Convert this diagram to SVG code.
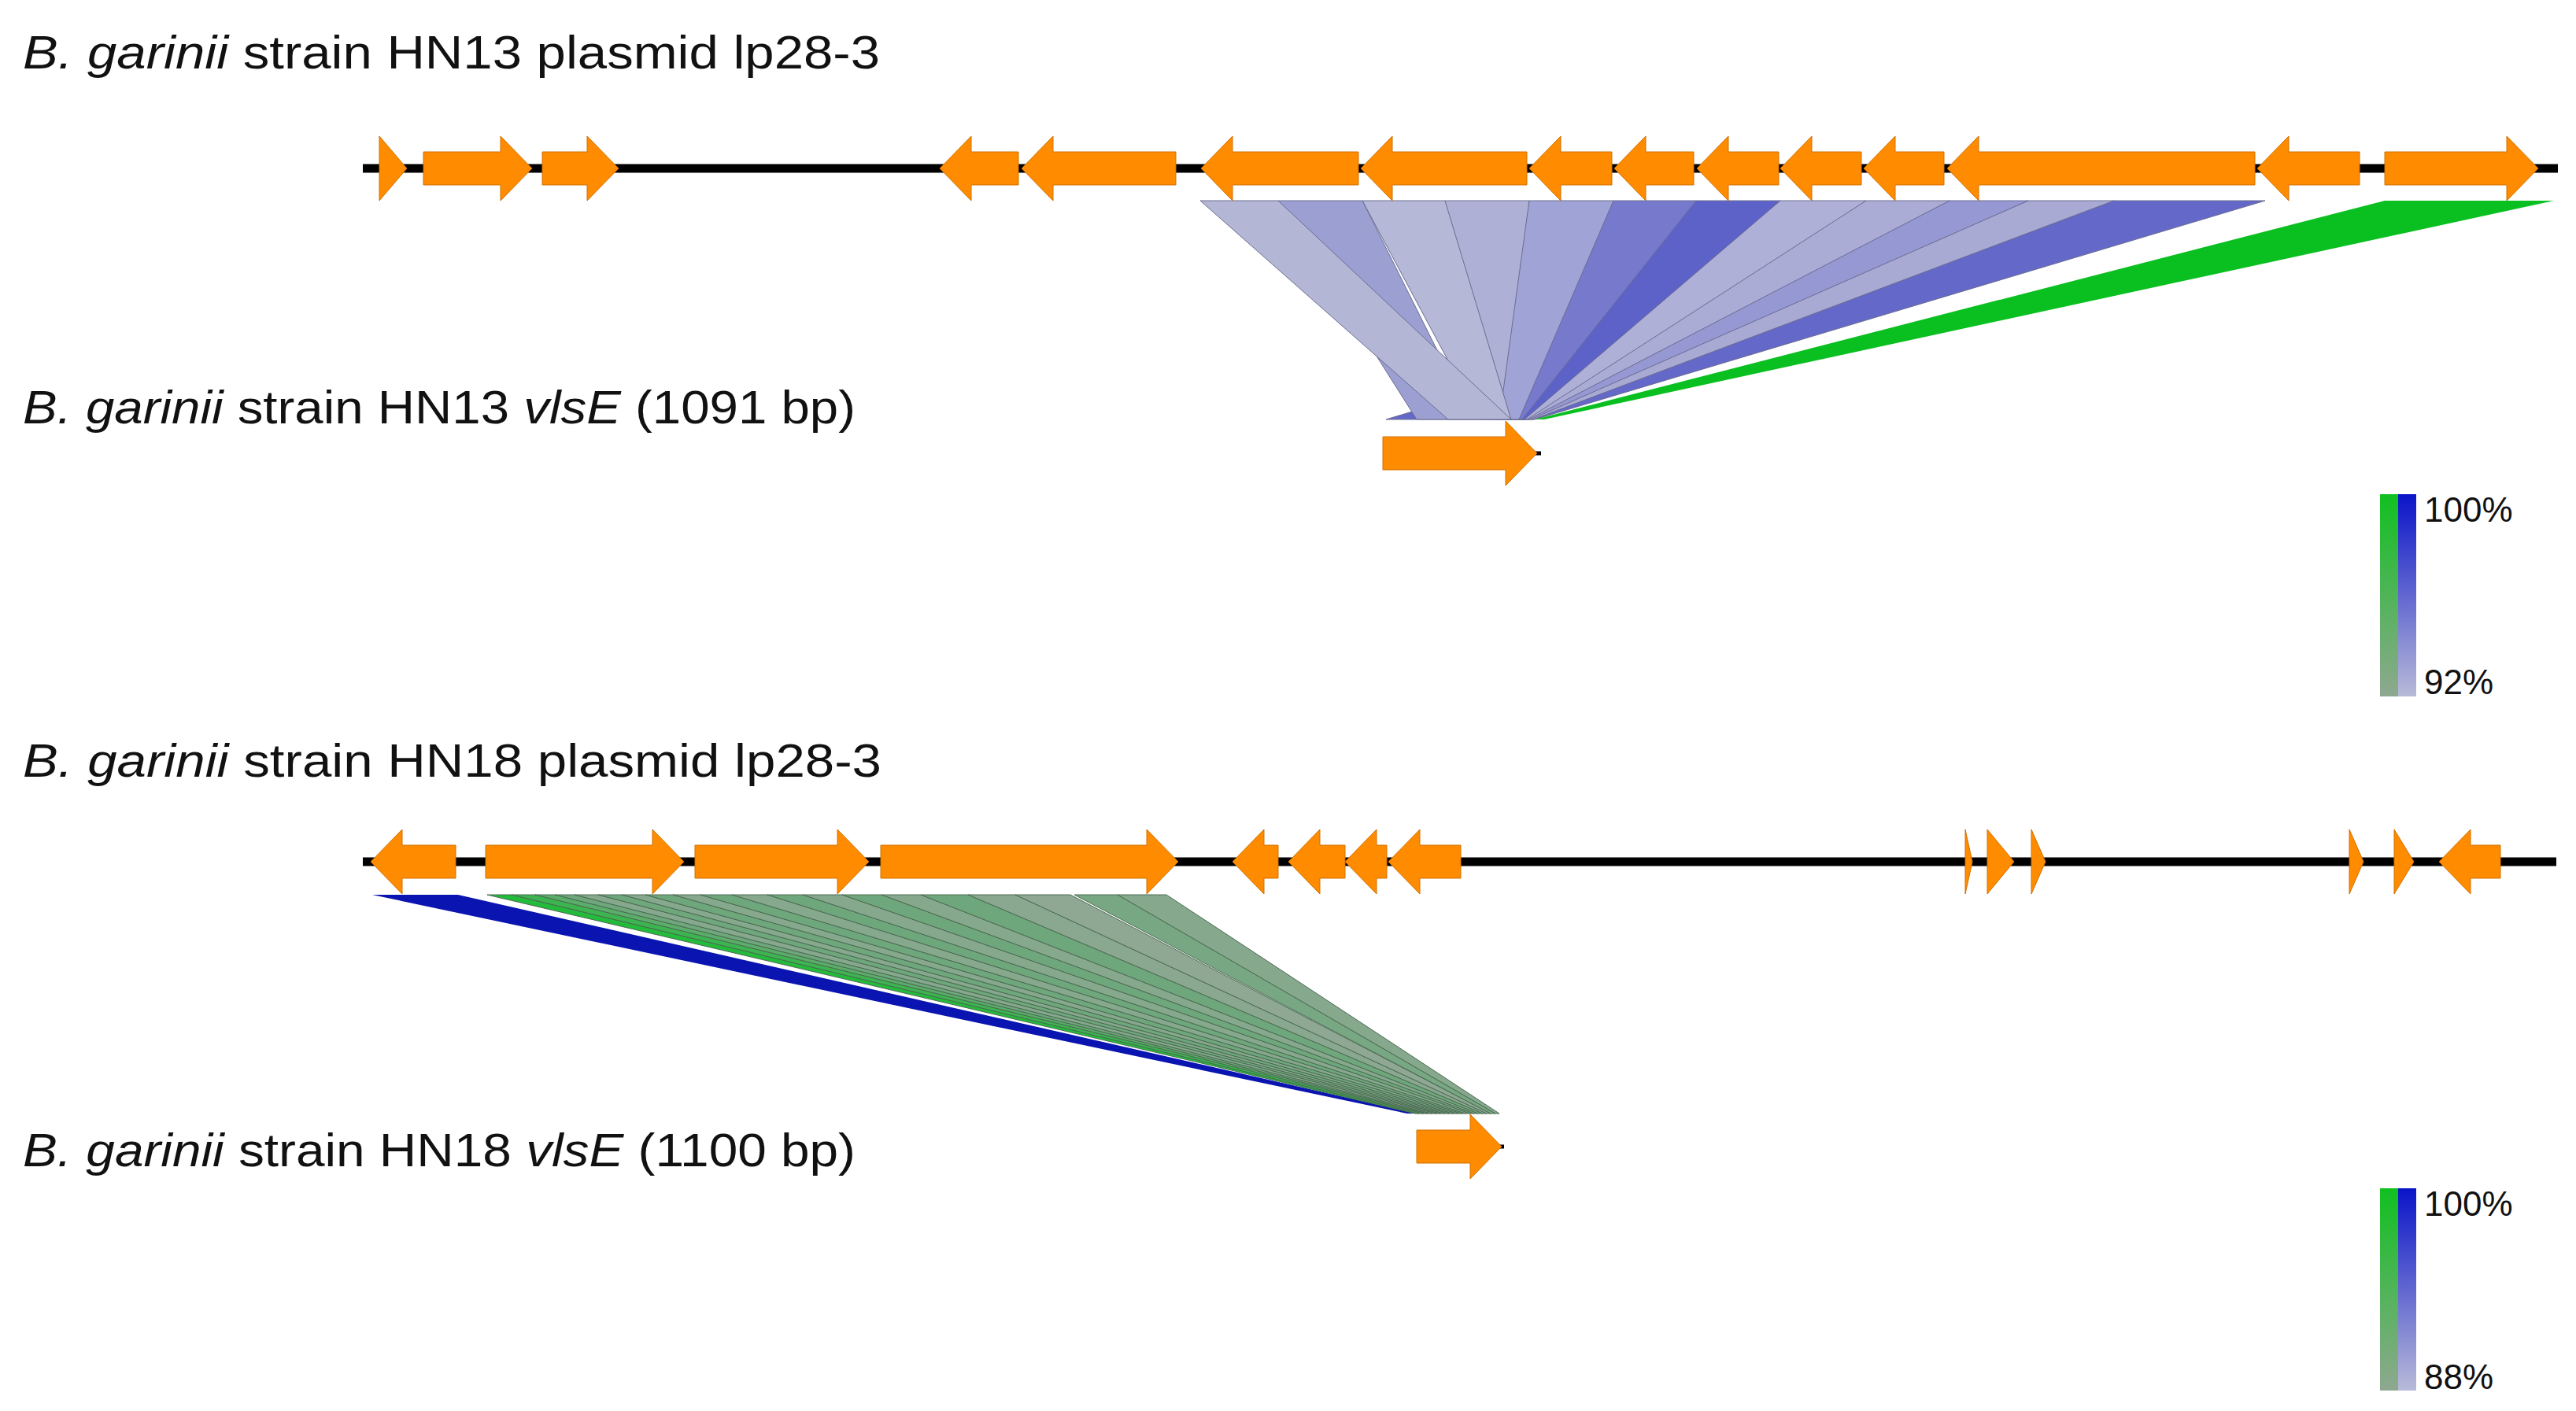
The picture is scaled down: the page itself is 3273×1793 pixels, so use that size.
<svg xmlns="http://www.w3.org/2000/svg" width="3273" height="1793" viewBox="0 0 3273 1793">
<defs>
<style>
.t{font-family:"Liberation Sans",Arial,sans-serif;font-size:60px;fill:#111}
.l{font-family:"Liberation Sans",Arial,sans-serif;font-size:44px;fill:#111}
.g{fill:#ff8c00;stroke:#d07000;stroke-width:1}
.bb{stroke:#000;stroke-width:11}
.r{stroke:#6a6c90;stroke-width:1}
.q{stroke:#4c6a52;stroke-width:1}
</style>
<linearGradient id="gg" x1="0" y1="0" x2="0" y2="1"><stop offset="0" stop-color="#10c020"/><stop offset="1" stop-color="#8fa890"/></linearGradient>
<linearGradient id="gb" x1="0" y1="0" x2="0" y2="1"><stop offset="0" stop-color="#0a14c8"/><stop offset="1" stop-color="#b8bad8"/></linearGradient>
</defs>
<rect width="3273" height="1793" fill="#fff"/>
<g id="labels">
<text class="t" x="29" y="87" textLength="1089" lengthAdjust="spacingAndGlyphs"><tspan font-style="italic">B. garinii</tspan> strain HN13 plasmid lp28-3</text>
<text class="t" x="29" y="538" textLength="1058" lengthAdjust="spacingAndGlyphs"><tspan font-style="italic">B. garinii</tspan> strain HN13 <tspan font-style="italic">vlsE</tspan> (1091 bp)</text>
<text class="t" x="29" y="987" textLength="1091" lengthAdjust="spacingAndGlyphs"><tspan font-style="italic">B. garinii</tspan> strain HN18 plasmid lp28-3</text>
<text class="t" x="29" y="1482" textLength="1058" lengthAdjust="spacingAndGlyphs"><tspan font-style="italic">B. garinii</tspan> strain HN18 <tspan font-style="italic">vlsE</tspan> (1100 bp)</text>
</g>
<g id="connectors">
<polygon class="r" fill="#6468c8" points="2686,255 2878,255 1950,533 1761,533"/>
<polygon class="r" fill="#a8aad4" points="2577,255 2686,255 1948,533 1925,533"/>
<polygon class="r" fill="#9598d2" points="2477,255 2577,255 1945,533 1920,533"/>
<polygon class="r" fill="#aaacd6" points="2371,255 2477,255 1942,533 1915,533"/>
<polygon class="r" fill="#aeb0d8" points="2262,255 2371,255 1940,533 1910,533"/>
<polygon class="r" fill="#5d62c8" points="2155,255 2262,255 1937,533 1905,533"/>
<polygon class="r" fill="#7679cc" points="2050,255 2155,255 1934,533 1900,533"/>
<polygon class="r" fill="#a0a3d6" points="1943,255 2050,255 1930,533 1893,533"/>
<polygon class="r" fill="#aeb0d6" points="1836,255 1943,255 1905,533 1870,533"/>
<polygon class="r" fill="#b6b8d8" points="1731,255 1836,255 1920,533 1880,533"/>
<polygon class="r" fill="#9c9fd2" points="1624,255 1731,255 1870,533 1800,533"/>
<polygon class="r" fill="#b4b6d6" points="1525,255 1624,255 1920,533 1840,533"/>
<polygon fill="#0abf20" points="3030,255 3245,255 1962,533 1950,533"/>
<polygon fill="#0a14b0" points="473,1137 582,1137 1800,1415 1788,1415"/>
<polygon fill="#22bb3a" class="q" points="619,1137 650,1137 1803,1415 1798,1415"/>
<polygon fill="#3cb450" class="q" points="650,1137 680,1137 1809,1415 1803,1415"/>
<polygon fill="#5aae6a" class="q" points="680,1137 705,1137 1814,1415 1809,1415"/>
<polygon fill="#6fa77c" class="q" points="705,1137 730,1137 1819,1415 1814,1415"/>
<polygon fill="#86a98e" class="q" points="730,1137 760,1137 1825,1415 1819,1415"/>
<polygon fill="#6fa77c" class="q" points="760,1137 790,1137 1830,1415 1825,1415"/>
<polygon fill="#86a98e" class="q" points="790,1137 820,1137 1835,1415 1830,1415"/>
<polygon fill="#6fa77c" class="q" points="820,1137 855,1137 1841,1415 1835,1415"/>
<polygon fill="#86a98e" class="q" points="855,1137 890,1137 1846,1415 1841,1415"/>
<polygon fill="#6fa77c" class="q" points="890,1137 930,1137 1852,1415 1846,1415"/>
<polygon fill="#86a98e" class="q" points="930,1137 975,1137 1857,1415 1852,1415"/>
<polygon fill="#6fa77c" class="q" points="975,1137 1020,1137 1862,1415 1857,1415"/>
<polygon fill="#86a98e" class="q" points="1020,1137 1070,1137 1868,1415 1862,1415"/>
<polygon fill="#6fa77c" class="q" points="1070,1137 1120,1137 1873,1415 1868,1415"/>
<polygon fill="#86a98e" class="q" points="1120,1137 1170,1137 1878,1415 1873,1415"/>
<polygon fill="#6fa77c" class="q" points="1170,1137 1230,1137 1884,1415 1878,1415"/>
<polygon fill="#8aa890" class="q" points="1230,1137 1290,1137 1889,1415 1884,1415"/>
<polygon fill="#8fa894" class="q" points="1290,1137 1360,1137 1894,1415 1889,1415"/>
<polygon fill="#78a883" class="q" points="1365,1137 1420,1137 1900,1415 1894,1415"/>
<polygon fill="#86a98e" class="q" points="1420,1137 1482,1137 1905,1415 1900,1415"/>
</g>
<g id="hn13-plasmid">
<line class="bb" x1="461" y1="214" x2="3250" y2="214"/>
<polygon class="g" points="482,173 517,214 482,255"/>
<polygon class="g" points="538,193 636,193 636,173 676,214 636,255 636,235 538,235"/>
<polygon class="g" points="689,193 746,193 746,173 786,214 746,255 746,235 689,235"/>
<polygon class="g" points="1194,214 1234,173 1234,193 1294,193 1294,235 1234,235 1234,255"/>
<polygon class="g" points="1298,214 1338,173 1338,193 1494,193 1494,235 1338,235 1338,255"/>
<polygon class="g" points="1526,214 1566,173 1566,193 1726,193 1726,235 1566,235 1566,255"/>
<polygon class="g" points="1729,214 1769,173 1769,193 1940,193 1940,235 1769,235 1769,255"/>
<polygon class="g" points="1943,214 1983,173 1983,193 2048,193 2048,235 1983,235 1983,255"/>
<polygon class="g" points="2051,214 2091,173 2091,193 2152,193 2152,235 2091,235 2091,255"/>
<polygon class="g" points="2156,214 2196,173 2196,193 2260,193 2260,235 2196,235 2196,255"/>
<polygon class="g" points="2262,214 2302,173 2302,193 2365,193 2365,235 2302,235 2302,255"/>
<polygon class="g" points="2368,214 2408,173 2408,193 2470,193 2470,235 2408,235 2408,255"/>
<polygon class="g" points="2474,214 2514,173 2514,193 2865,193 2865,235 2514,235 2514,255"/>
<polygon class="g" points="2868,214 2908,173 2908,193 2998,193 2998,235 2908,235 2908,255"/>
<polygon class="g" points="3030,193 3185,193 3185,173 3225,214 3185,255 3185,235 3030,235"/>
</g>
<g id="hn13-vlse">
<line stroke="#000" stroke-width="5" x1="1950" y1="576" x2="1958" y2="576"/>
<polygon class="g" points="1757,555 1913,555 1913,535 1953,576 1913,617 1913,597 1757,597"/>
</g>
<g id="hn18-plasmid">
<line class="bb" x1="461" y1="1095" x2="3248" y2="1095"/>
<polygon class="g" points="471,1095 511,1054 511,1074 579,1074 579,1116 511,1116 511,1136"/>
<polygon class="g" points="617,1074 829,1074 829,1054 869,1095 829,1136 829,1116 617,1116"/>
<polygon class="g" points="883,1074 1064,1074 1064,1054 1104,1095 1064,1136 1064,1116 883,1116"/>
<polygon class="g" points="1119,1074 1457,1074 1457,1054 1497,1095 1457,1136 1457,1116 1119,1116"/>
<polygon class="g" points="1566,1095 1606,1054 1606,1074 1624,1074 1624,1116 1606,1116 1606,1136"/>
<polygon class="g" points="1637,1095 1677,1054 1677,1074 1709,1074 1709,1116 1677,1116 1677,1136"/>
<polygon class="g" points="1709,1095 1749,1054 1749,1074 1762,1074 1762,1116 1749,1116 1749,1136"/>
<polygon class="g" points="1764,1095 1804,1054 1804,1074 1856,1074 1856,1116 1804,1116 1804,1136"/>
<polygon class="g" points="2497,1054 2506,1095 2497,1136"/>
<polygon class="g" points="2525,1054 2559,1095 2525,1136"/>
<polygon class="g" points="2581,1054 2599,1095 2581,1136"/>
<polygon class="g" points="2985,1054 3003,1095 2985,1136"/>
<polygon class="g" points="3042,1054 3067,1095 3042,1136"/>
<polygon class="g" points="3099,1095 3139,1054 3139,1074 3177,1074 3177,1116 3139,1116 3139,1136"/>
</g>
<g id="hn18-vlse">
<line stroke="#000" stroke-width="5" x1="1905" y1="1457" x2="1911" y2="1457"/>
<polygon class="g" points="1800,1436 1868,1436 1868,1416 1908,1457 1868,1498 1868,1478 1800,1478"/>
</g>
<g id="legend1">
<rect x="3024" y="628" width="23" height="257" fill="url(#gg)"/>
<rect x="3047" y="628" width="23" height="257" fill="url(#gb)"/>
<text class="l" x="3080" y="663">100%</text>
<text class="l" x="3080" y="882">92%</text>
</g>
<g id="legend2">
<rect x="3024" y="1510" width="23" height="257" fill="url(#gg)"/>
<rect x="3047" y="1510" width="23" height="257" fill="url(#gb)"/>
<text class="l" x="3080" y="1545">100%</text>
<text class="l" x="3080" y="1765">88%</text>
</g>
</svg>
